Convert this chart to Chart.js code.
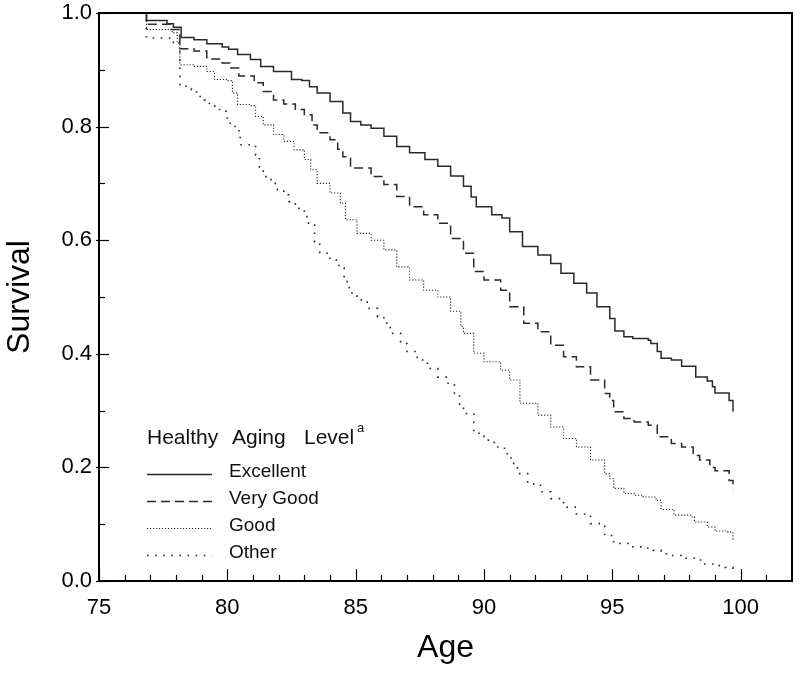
<!DOCTYPE html>
<html>
<head>
<meta charset="utf-8">
<script src="https://cdn.jsdelivr.net/npm/chart.js@4"></script>
<style>
  html, body { margin: 0; padding: 0; background: #fff; }
  #wrap { width: 800px; height: 676px; }
</style>
</head>
<body>
<div id="wrap"><canvas id="c" width="800" height="676"></canvas></div>
<script>
// ---- data ----
const seriesLabels = ['Excellent', 'Very Good', 'Good', 'Other'];
const legendTitle = 'Healthy Aging Level';
const legendNote = 'a';
const xTitle = 'Age';
const yTitle = 'Survival';

const xMajorTicks = [75, 80, 85, 90, 95, 100];
const xMinorTicks = [76, 77, 78, 79, 81, 82, 83, 84, 86, 87, 88, 89, 91, 92, 93, 94, 96, 97, 98, 99, 101];
const yMajorTicks = [0, 0.2, 0.4, 0.6, 0.8, 1.0];
const yMinorTicks = [0.1, 0.3, 0.5, 0.7, 0.9];

const excellentAge = [76.8, 76.85, 77.65, 77.9, 78.2, 78.7, 79.2, 79.8, 80.05, 80.4, 80.9, 81.3, 81.8, 82.5, 82.9, 83.2, 83.5, 84.0, 84.5, 84.8, 85.2, 85.6, 86.1, 86.6, 87.1, 87.7, 88.2, 88.7, 89.2, 89.5, 89.7, 90.3, 90.7, 91.0, 91.5, 92.1, 92.6, 93.0, 93.5, 94.0, 94.4, 94.9, 95.1, 95.45, 95.8, 96.4, 96.5, 96.75, 96.9, 97.3, 97.7, 98.25, 98.7, 98.9, 99.0, 99.55, 99.7];
const excellentSurv = [1.0, 0.987, 0.981, 0.975, 0.957, 0.953, 0.946, 0.940, 0.936, 0.927, 0.918, 0.906, 0.897, 0.883, 0.881, 0.870, 0.859, 0.844, 0.824, 0.809, 0.803, 0.797, 0.783, 0.765, 0.754, 0.742, 0.730, 0.713, 0.695, 0.676, 0.659, 0.645, 0.639, 0.615, 0.589, 0.574, 0.559, 0.542, 0.524, 0.507, 0.483, 0.462, 0.440, 0.430, 0.427, 0.424, 0.418, 0.404, 0.392, 0.389, 0.378, 0.359, 0.352, 0.342, 0.331, 0.318, 0.298];

const veryGoodAge = [76.8, 76.85, 77.8, 78.15, 78.7, 79.2, 79.8, 80.1, 80.45, 81.05, 81.4, 81.8, 82.2, 82.65, 83.0, 83.3, 83.5, 84.0, 84.3, 84.5, 84.8, 85.6, 86.1, 86.6, 87.1, 87.65, 88.2, 88.7, 89.2, 89.6, 90.0, 90.65, 91.0, 91.55, 92.1, 92.6, 93.1, 93.6, 94.15, 94.7, 94.9, 95.05, 95.45, 95.85, 96.4, 96.75, 97.3, 97.7, 98.15, 98.4, 98.8, 99.0, 99.55, 99.7];
const veryGoodSurv = [1.0, 0.980, 0.971, 0.937, 0.933, 0.919, 0.912, 0.903, 0.889, 0.877, 0.862, 0.847, 0.840, 0.830, 0.821, 0.803, 0.789, 0.777, 0.760, 0.747, 0.727, 0.712, 0.698, 0.677, 0.659, 0.645, 0.630, 0.603, 0.577, 0.545, 0.530, 0.512, 0.483, 0.454, 0.439, 0.415, 0.395, 0.377, 0.354, 0.330, 0.318, 0.298, 0.286, 0.280, 0.274, 0.254, 0.242, 0.236, 0.221, 0.213, 0.200, 0.194, 0.177, 0.161];

const goodAge = [76.8, 76.85, 77.85, 78.05, 78.15, 78.7, 79.2, 79.5, 80.0, 80.2, 80.4, 80.9, 81.1, 81.4, 81.8, 82.2, 82.6, 83.0, 83.25, 83.5, 84.0, 84.4, 84.6, 85.05, 85.6, 86.1, 86.6, 87.1, 87.65, 88.2, 88.7, 89.1, 89.2, 89.6, 90.0, 90.65, 91.0, 91.4, 92.1, 92.6, 93.1, 93.6, 94.15, 94.7, 94.9, 95.05, 95.45, 95.85, 96.2, 96.7, 96.9, 97.4, 98.05, 98.2, 98.7, 99.0, 99.5, 99.7];
const goodSurv = [1.0, 0.971, 0.965, 0.947, 0.909, 0.906, 0.897, 0.883, 0.881, 0.859, 0.839, 0.837, 0.818, 0.803, 0.786, 0.774, 0.759, 0.742, 0.724, 0.700, 0.683, 0.665, 0.636, 0.612, 0.600, 0.583, 0.553, 0.530, 0.512, 0.500, 0.475, 0.448, 0.436, 0.401, 0.386, 0.371, 0.354, 0.313, 0.292, 0.271, 0.251, 0.236, 0.213, 0.189, 0.180, 0.163, 0.154, 0.151, 0.148, 0.142, 0.126, 0.116, 0.113, 0.104, 0.095, 0.088, 0.086, 0.071];

const otherAge = [76.8, 76.85, 77.9, 78.15, 78.6, 78.8, 79.1, 79.3, 79.6, 79.95, 80.0, 80.3, 80.45, 80.5, 81.1, 81.25, 81.4, 81.7, 81.95, 82.2, 82.4, 82.65, 83.0, 83.1, 83.4, 83.6, 84.0, 84.35, 84.55, 84.75, 85.05, 85.45, 85.85, 86.1, 86.35, 86.75, 87.0, 87.4, 87.8, 88.2, 88.6, 88.85, 89.05, 89.2, 89.6, 90.0, 90.4, 90.8, 91.05, 91.3, 91.7, 92.2, 92.6, 93.1, 93.6, 94.15, 94.7, 95.05, 95.8, 96.2, 96.6, 96.9, 97.3, 97.7, 98.2, 98.6, 99.0, 99.4, 99.7];
const otherSurv = [1.0, 0.956, 0.948, 0.871, 0.865, 0.853, 0.847, 0.836, 0.830, 0.821, 0.806, 0.797, 0.783, 0.768, 0.750, 0.727, 0.712, 0.700, 0.689, 0.680, 0.668, 0.656, 0.648, 0.630, 0.597, 0.577, 0.565, 0.551, 0.527, 0.507, 0.495, 0.480, 0.465, 0.454, 0.436, 0.418, 0.404, 0.389, 0.374, 0.359, 0.345, 0.330, 0.310, 0.295, 0.260, 0.248, 0.236, 0.224, 0.207, 0.189, 0.171, 0.157, 0.145, 0.130, 0.118, 0.101, 0.080, 0.066, 0.060, 0.058, 0.054, 0.048, 0.045, 0.040, 0.037, 0.030, 0.027, 0.024, 0.016];

// ---- styling ----
const FONT = "'Liberation Sans', Arial, Helvetica, sans-serif";
const lineColor = '#2a2a2a';
const styles = [
  { borderWidth: 1.5, borderDash: [] },
  { borderWidth: 1.5, borderDash: [9, 5] },
  { borderWidth: 1.1, borderDash: [1.2, 1.8] },
  { borderWidth: 1.6, borderDash: [1.6, 6.5] }
];

function pts(ages, vals) { return ages.map((a, i) => ({ x: a, y: vals[i] })); }
const allSeries = [[excellentAge, excellentSurv], [veryGoodAge, veryGoodSurv], [goodAge, goodSurv], [otherAge, otherSurv]];

const datasets = allSeries.map((s, i) => ({
  label: seriesLabels[i],
  data: pts(s[0], s[1]),
  borderColor: lineColor,
  backgroundColor: lineColor,
  borderWidth: styles[i].borderWidth,
  borderDash: styles[i].borderDash,
  stepped: 'before',
  pointRadius: 0,
  fill: false,
  tension: 0
}));

// frame, inward ticks and in-plot legend
const framePlugin = {
  id: 'framePlugin',
  afterDraw(chart) {
    const { ctx, chartArea: a, scales: { x, y } } = chart;
    ctx.save();
    ctx.strokeStyle = '#000';
    ctx.lineWidth = 1.2;
    const seg = (x1, y1, x2, y2) => { ctx.beginPath(); ctx.moveTo(x1, y1); ctx.lineTo(x2, y2); ctx.stroke(); };
    xMajorTicks.forEach(v => { const p = Math.round(x.getPixelForValue(v)) + 0.5; seg(p, a.bottom, p, a.bottom - 12); });
    xMinorTicks.forEach(v => { const p = Math.round(x.getPixelForValue(v)) + 0.5; seg(p, a.bottom, p, a.bottom - 6); });
    yMajorTicks.forEach(v => { const p = Math.round(y.getPixelForValue(v)) + 0.5; seg(a.left - 3, p, a.left + 10, p); });
    yMinorTicks.forEach(v => { const p = Math.round(y.getPixelForValue(v)) + 0.5; seg(a.left, p, a.left + 6, p); });
    ctx.lineWidth = 2;
    ctx.strokeRect(a.left, a.top, a.right - a.left, a.bottom - a.top);

    // legend
    ctx.fillStyle = '#111';
    ctx.textBaseline = 'alphabetic';
    ctx.textAlign = 'left';
    ctx.font = '21px ' + FONT;
    const words = legendTitle.split(' ');
    const wx = [147, 232, 304];
    words.forEach((w, i) => ctx.fillText(w, wx[i] !== undefined ? wx[i] : 147, 444));
    ctx.font = '13px ' + FONT;
    ctx.fillText(legendNote, 357, 432);
    ctx.font = '19px ' + FONT;
    chart.data.datasets.forEach((ds, i) => {
      const base = 477 + i * 27;
      const ly = base - 3;
      ctx.save();
      ctx.strokeStyle = ds.borderColor;
      ctx.lineWidth = ds.borderWidth;
      ctx.setLineDash(ds.borderDash || []);
      ctx.beginPath();
      ctx.moveTo(147, ly + 0.5);
      ctx.lineTo(212, ly + 0.5);
      ctx.stroke();
      ctx.restore();
      ctx.fillText(ds.label, 229, base);
    });
    ctx.restore();
  }
};

new Chart(document.getElementById('c'), {
  type: 'line',
  data: { datasets },
  options: {
    responsive: false,
    animation: false,
    devicePixelRatio: 1,
    layout: { padding: { left: 0, top: 13, right: 8, bottom: 0 } },
    plugins: { legend: { display: false }, tooltip: { enabled: false } },
    scales: {
      x: {
        type: 'linear',
        min: 75,
        max: 102,
        grid: { display: false, drawTicks: false },
        border: { display: false },
        afterBuildTicks: s => { s.ticks = xMajorTicks.map(v => ({ value: v })); },
        afterFit: s => { s.height = 95; s.paddingLeft = 0; s.paddingRight = 0; },
        ticks: { color: '#000', font: { family: FONT, size: 22 }, padding: 14, maxRotation: 0, autoSkip: false },
        title: { display: true, text: xTitle, color: '#000', font: { family: FONT, size: 32 }, padding: { top: 0, bottom: 9 } }
      },
      y: {
        type: 'linear',
        min: 0,
        max: 1,
        grid: { display: false, drawTicks: false },
        border: { display: false },
        afterBuildTicks: s => { s.ticks = yMajorTicks.map(v => ({ value: v })); },
        afterFit: s => { s.width = 99; s.paddingTop = 0; s.paddingBottom = 0; },
        ticks: { color: '#000', font: { family: FONT, size: 22 }, padding: 7, autoSkip: false, callback: v => Number(v).toFixed(1) },
        title: { display: true, text: yTitle, color: '#000', font: { family: FONT, size: 32 }, padding: { top: 1, bottom: 0 } }
      }
    }
  },
  plugins: [framePlugin]
});
</script>
</body>
</html>
